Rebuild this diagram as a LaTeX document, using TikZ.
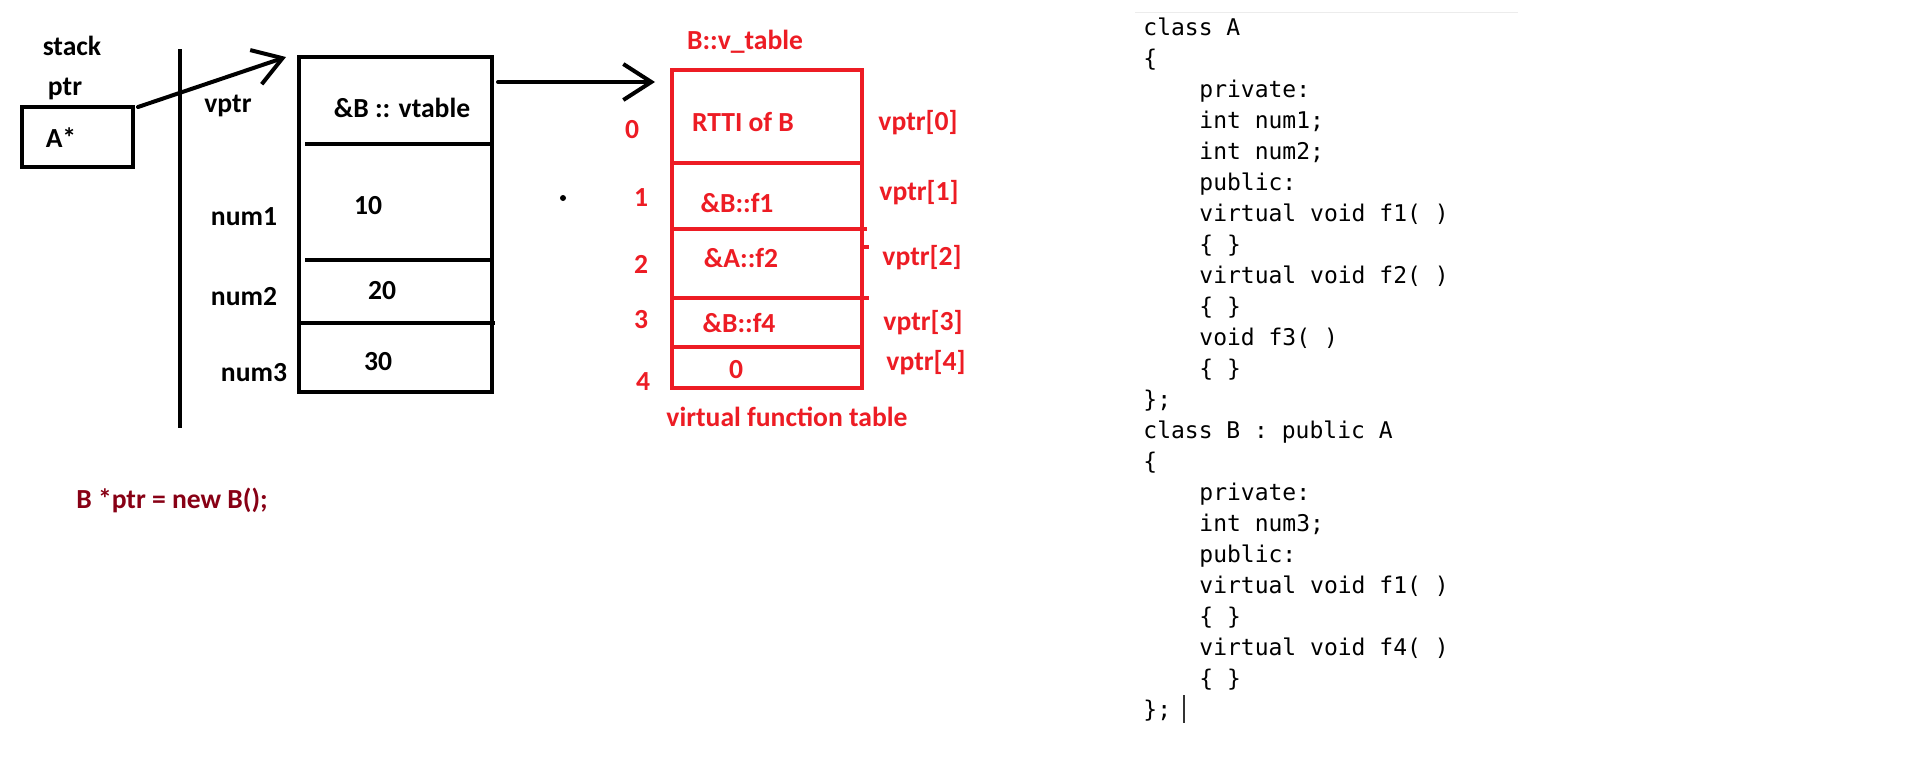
\documentclass[tikz,border=0pt]{standalone}
\usepackage{fontspec}
\setmainfont{Carlito}
\setmonofont{DejaVu Sans Mono}
\usetikzlibrary{arrows.meta}
\definecolor{pred}{RGB}{237,28,36}
\definecolor{dred}{RGB}{136,0,21}
\begin{document}
\begin{tikzpicture}[x=0.5pt,y=-0.5pt,
  lbl/.style={font=\fontsize{13.8}{16}\selectfont\bfseries, inner sep=0pt},
  rlbl/.style={lbl, text=pred},
  code/.style={font=\fontsize{11.5}{13}\selectfont\ttfamily, anchor=base west, inner sep=0pt},
  box/.style={draw, line width=2pt, inner sep=0pt},
  rbox/.style={draw=pred, line width=2pt, inner sep=0pt},
  arr/.style={line width=2pt, line cap=round, -{Straight Barb[length=14pt,width=18pt,line width=2pt]}},
  blk/.style={line width=2pt},
  rl/.style={draw=pred, line width=2pt}]
\useasboundingbox[fill=white] (0,0) rectangle (1910,772);

% stack side
\node[lbl] (stack) at (72,46) {stack};
\node[lbl] (ptr) at (65,89) {ptr};
\node[box, minimum width=55.5pt, minimum height=30pt] (astar) at (77.5,137) {};
\node[lbl] (astxt) at (61,138) {A*};
\coordinate (stktop) at (180,49);
\coordinate (stkbot) at (180,428);
\draw[blk] (stktop) -- (stkbot);

% object
\node[box, minimum width=96.5pt, minimum height=167.5pt] (obj) at (395.5,224.5) {};
\draw[blk] (305,144) -- (obj.east |- 0,144);
\draw[blk] (305,260) -- (obj.east |- 0,260);
\draw[blk] (obj.west |- 0,323) -- (495,323);
\node[lbl] (vptr) at (228,106) {vptr};
\node[lbl] (vtab) at (402,108) {\&B :: vtable};
\node[lbl] (n1) at (244,217) {num1};
\node[lbl] (v10) at (368,206) {10};
\node[lbl] (n2) at (244,297) {num2};
\node[lbl] (v20) at (382,291) {20};
\node[lbl] (n3) at (254,373) {num3};
\node[lbl] (v30) at (378,362) {30};

\coordinate (a1s) at (138,107);
\draw[arr] (a1s) -- ([xshift=-5.5pt,yshift=-1pt]obj.north west);

% vtable
\node[rlbl] (vtitle) at (745,42) {B::v\_table};
\node[rbox, minimum width=95pt, minimum height=159pt] (vt) at (767,229) {};
\draw[rl] (vt.west |- 0,163) -- (vt.east |- 0,163);
\draw[rl] (vt.west |- 0,229) -- (867,229);
\draw[rl] (vt.west |- 0,298) -- (869,298);
\draw[rl] (vt.west |- 0,347) -- (vt.east |- 0,347);
\draw[rl] (861,247) -- (869,247);

\coordinate (a2s) at (498,82);
\draw[arr, shorten >=7.5pt] (a2s) -- (a2s -| vt.west);

\node[rlbl] (i0) at (632,130) {0};
\node[rlbl] (i1) at (641,198) {1};
\node[rlbl] (i2) at (641,264) {2};
\node[rlbl] (i3) at (641,320) {3};
\node[rlbl] (i4) at (643,382) {4};
\node[rlbl] (e0) at (743,122) {RTTI of B};
\node[rlbl] (e1) at (737,203) {\&B::f1};
\node[rlbl] (e2) at (741,258) {\&A::f2};
\node[rlbl] (e3) at (739,323) {\&B::f4};
\node[rlbl] (e4) at (736,370) {0};
\node[rlbl] (p0) at (918,123) {vptr[0]};
\node[rlbl] (p1) at (919,193) {vptr[1]};
\node[rlbl] (p2) at (922,258) {vptr[2]};
\node[rlbl] (p3) at (923,323) {vptr[3]};
\node[rlbl] (p4) at (926,363) {vptr[4]};
\node[rlbl] (vft) at (787,417) {virtual function table};
\fill (563,198) circle (1.5pt);

\node[lbl, text=dred] (decl) at (172,500) {B *ptr = new B();};

% code
\draw[gray!15, line width=0.5pt] (1135,12) -- (1518,12);
\foreach \i/\x/\t in {0/1143/class A, 1/1143/\{, 2/1199/private:, 3/1199/int num1;,
  4/1199/int num2;, 5/1199/public:, 6/1199/virtual void f1( ), 7/1199/\{ \},
  8/1199/virtual void f2( ), 9/1199/\{ \}, 10/1199/void f3( ), 11/1199/\{ \},
  12/1143/\};, 13/1143/class B : public A, 14/1143/\{, 15/1199/private:,
  16/1199/int num3;, 17/1199/public:, 18/1199/virtual void f1( ), 19/1199/\{ \},
  20/1199/virtual void f4( ), 21/1199/\{ \}, 22/1143/\};}
  \node[code] (c\i) at ({\x},{35+31*\i}) {\t};
\coordinate (curtop) at (1184,695);
\coordinate (curbot) at (1184,723);
\draw[black!80, line width=0.6pt] (curtop) -- (curbot);
\end{tikzpicture}
\end{document}
